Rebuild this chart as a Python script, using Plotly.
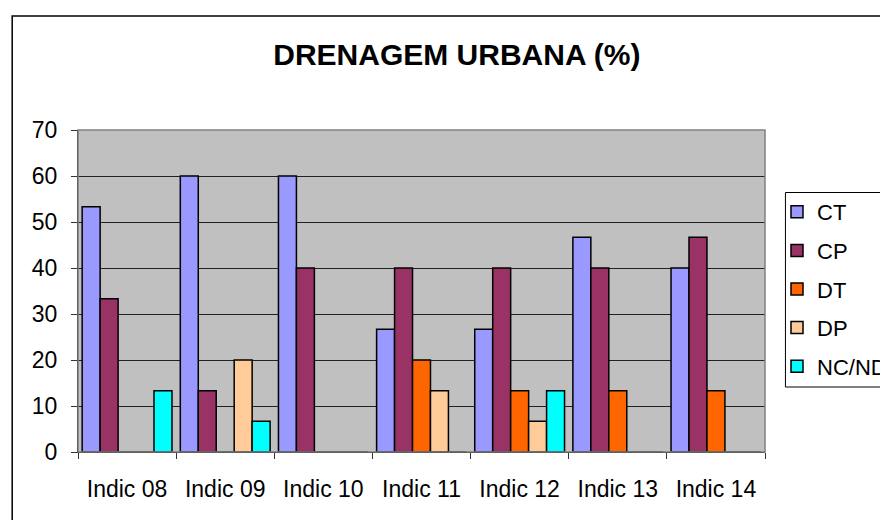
import plotly.graph_objects as go

categories = ["Indic 08", "Indic 09", "Indic 10", "Indic 11", "Indic 12", "Indic 13", "Indic 14"]
ct = [53.3, 60, 60, 26.7, 26.7, 46.7, 40]
cp = [33.3, 13.3, 40, 40, 40, 40, 46.7]
dt = [0, 0, 0, 20, 13.3, 13.3, 13.3]
dp = [0, 20, 0, 13.3, 6.7, 0, 0]
ncnd = [13.3, 6.7, 0, 0, 13.3, 0, 0]
series_names = ["CT", "CP", "DT", "DP", "NC/ND"]
series_values = [ct, cp, dt, dp, ncnd]
colors = ["#9999FF", "#993366", "#FF6600", "#FFCC99", "#00FFFF"]
y_ticks = [0, 10, 20, 30, 40, 50, 60, 70]

FONT = "Liberation Sans, Arial, sans-serif"

fig = go.Figure()
for name, vals, col in zip(series_names, series_values, colors):
    fig.add_trace(go.Bar(
        x=categories, y=vals, name=name, legendgroup=name,
        marker=dict(color=col, line=dict(color="black", width=1.5)),
    ))

# figure is placed at an 8px page offset (body margin)
W, H = 880, 512
L, T = 70, 122
pw, ph = 689, 322
R, B = W - L - pw, H - T - ph

def px_x(x):  # figure px -> paper x
    return (x - L) / pw

def px_y(y):  # figure px (from top) -> paper y
    return (T + ph - y) / ph

fig.update_layout(
    width=W, height=H,
    margin=dict(l=L, r=R, t=T, b=B, pad=0),
    paper_bgcolor="white", plot_bgcolor="#C0C0C0",
    barmode="group", bargap=0.085, bargroupgap=0,
    font=dict(family=FONT, size=22, color="black"),
    title=dict(text="<b>DRENAGEM URBANA (%)</b>", x=px_x(450), xref="paper",
               xanchor="center", y=1 - 46 / H, yref="container", yanchor="middle",
               font=dict(family=FONT, size=30, color="black")),
    showlegend=True,
    legend=dict(xref="container", yref="container",
                x=769 / W, xanchor="left", y=1 - 183 / H, yanchor="top",
                borderwidth=0, bgcolor="rgba(0,0,0,0)",
                font=dict(family=FONT, size=22), tracegroupgap=7,
                itemwidth=30, traceorder="grouped"),
    xaxis=dict(showgrid=False, ticks="outside", ticklen=6, tickcolor="#333",
               tickson="boundaries", showline=True, linecolor="black", linewidth=1,
               tickfont=dict(size=23), ticklabelstandoff=16),
    yaxis=dict(range=[0, 70], tickvals=y_ticks, showgrid=True, gridcolor="#222",
               gridwidth=1, ticks="outside", ticklen=6, tickcolor="#333",
               showline=True, linecolor="black", linewidth=1, zeroline=False,
               tickfont=dict(size=23), ticklabelstandoff=9),
    shapes=[
        dict(type="rect", xref="paper", yref="paper", x0=0, x1=1, y0=0, y1=1,
             line=dict(color="#808080", width=1.5), layer="above"),
        dict(type="rect", xref="paper", yref="paper",
             x0=px_x(4), x1=1.3, y0=-0.3, y1=px_y(8),
             line=dict(color="black", width=1.5), layer="below"),
        # legend frame
        dict(type="rect", xref="paper", yref="paper",
             x0=px_x(779.5), x1=px_x(900), y0=px_y(379), y1=px_y(184.5),
             line=dict(color="black", width=1), fillcolor="white", layer="above"),
    ],
)

fig.write_html("out.html")
